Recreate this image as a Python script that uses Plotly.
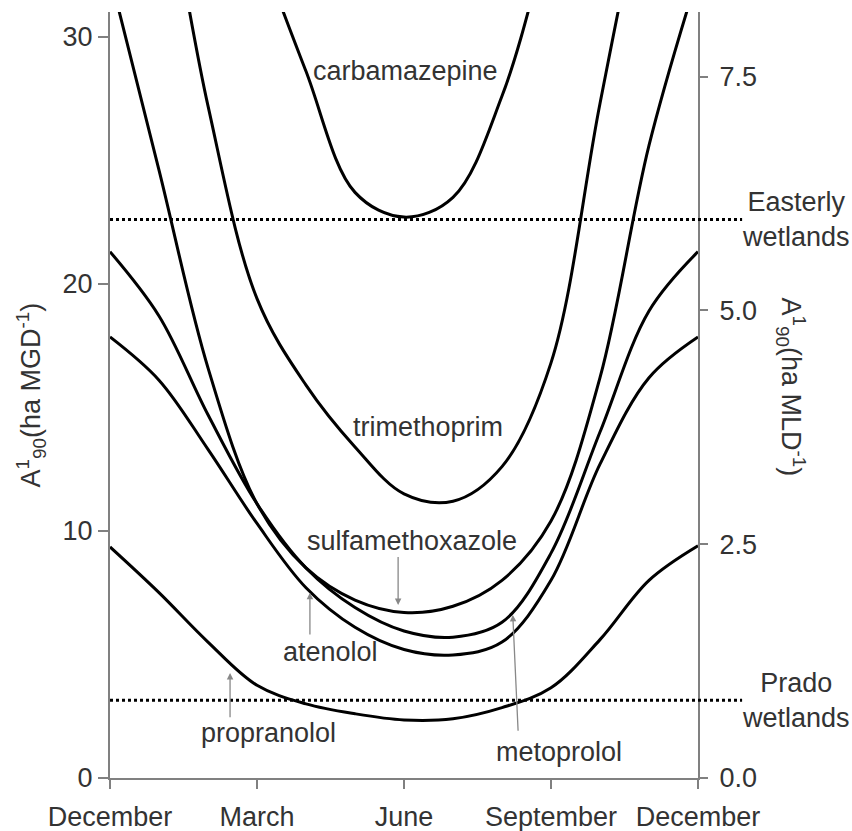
import plotly.graph_objects as go

# ---------------- data ----------------
months = [0, 1, 2, 3, 4, 5, 6, 7, 8, 9, 10, 11, 12]
tick_vals = [0, 3, 6, 9, 12]
tick_text = ["December", "March", "June", "September", "December"]

carbamazepine = [55, 48, 41, 34, 28.6, 23.7, 22.7, 23.5, 27.6, 34.5, 42, 49, 55]
trimethoprim = [45, 37.5, 27.2, 19.4, 15.9, 13.4, 11.5, 11.2, 12.6, 16.8, 27.3, 37, 45]
sulfamethoxazole = [32.5, 24.6, 16.6, 11.1, 8.5, 7.2, 6.7, 6.95, 8.0, 10.4, 16.2, 25.6, 32.5]
metoprolol = [21.3, 18.7, 14.7, 11.1, 8.5, 6.9, 5.95, 5.7, 6.3, 9.1, 14.0, 18.9, 21.3]
atenolol = [17.85, 16.1, 13.3, 10.3, 7.7, 6.1, 5.2, 4.98, 5.5, 8.0, 12.7, 16.2, 17.85]
propranolol = [9.35, 7.5, 5.5, 3.75, 3.0, 2.6, 2.35, 2.4, 2.85, 3.65, 5.6, 8.0, 9.4]

series = [carbamazepine, trimethoprim, sulfamethoxazole, metoprolol, atenolol, propranolol]

wetland_names = ["Easterly<br>wetlands", "Prado<br>wetlands"]
wetland_values = [22.6, 3.15]

y_max = 31
mgd_to_mld = 3.785
left_ticks = [0, 10, 20, 30]
right_ticks = [0.0, 2.5, 5.0, 7.5]

# curve labels: (text, x, y)
labels = [
    ("carbamazepine", 6.04, 28.6),
    ("trimethoprim", 6.49, 14.2),
    ("sulfamethoxazole", 6.16, 9.6),
    ("atenolol", 4.51, 5.1),
    ("propranolol", 3.24, 1.82),
    ("metoprolol", 9.16, 1.05),
]
# arrows: (tip_x, tip_y, tail_x, tail_y)
arrows = [
    (5.88, 7.0, 5.88, 9.0),
    (4.08, 7.5, 4.08, 5.75),
    (2.45, 4.25, 2.45, 2.4),
    (8.22, 6.6, 8.33, 1.85),
]

FONT = "Liberation Sans, Arial, sans-serif"
TXT = "#333333"
AX = "#808080"
FS = 27

fig = go.Figure()
for s in series:
    fig.add_trace(go.Scatter(x=months, y=s, mode="lines",
                             line=dict(color="black", width=3, shape="spline", smoothing=1.0),
                             showlegend=False, hoverinfo="skip"))
# invisible trace for the right axis
fig.add_trace(go.Scatter(x=[0], y=[0], yaxis="y2", mode="markers",
                         marker=dict(opacity=0), showlegend=False, hoverinfo="skip"))

shapes = []
for v in wetland_values:
    shapes.append(dict(type="line", xref="paper", yref="y", x0=0, x1=1.075, y0=v, y1=v,
                       line=dict(color="black", width=3, dash="dot")))

ann = []
for t, x, y in labels:
    ann.append(dict(text=t, x=x, y=y, xref="x", yref="y", showarrow=False,
                    xanchor="center", yanchor="middle",
                    font=dict(family=FONT, size=FS, color=TXT)))
for tx, ty, ax_, ay_ in arrows:
    ann.append(dict(text="", x=tx, y=ty, ax=ax_, ay=ay_, xref="x", yref="y",
                    axref="x", ayref="y", showarrow=True, arrowhead=2, arrowsize=1,
                    arrowwidth=1.3, arrowcolor="#888888", standoff=0))
for name, v in zip(wetland_names, wetland_values):
    ann.append(dict(text=name, x=1.167, y=v, xref="paper", yref="y", showarrow=False,
                    xanchor="center", yanchor="middle", align="center",
                    font=dict(family=FONT, size=FS, color=TXT)))
ann.append(dict(text="A<sup>1</sup><sub>90</sub>(ha MGD<sup>-1</sup>)", textangle=-90,
                x=-0.135, y=0.5, xref="paper", yref="paper", showarrow=False,
                xanchor="center", yanchor="middle",
                font=dict(family=FONT, size=FS, color=TXT)))
ann.append(dict(text="A<sup>1</sup><sub>90</sub>(ha MLD<sup>-1</sup>)", textangle=90,
                x=1.158, y=0.51, xref="paper", yref="paper", showarrow=False,
                xanchor="center", yanchor="middle",
                font=dict(family=FONT, size=FS, color=TXT)))

fig.update_layout(
    width=852, height=831,
    margin=dict(l=110, r=154, t=12, b=53),
    paper_bgcolor="white", plot_bgcolor="white",
    font=dict(family=FONT, size=FS, color=TXT),
    xaxis=dict(range=[0, 12], tickvals=tick_vals, ticktext=tick_text, automargin=False,
               showgrid=False, zeroline=False, showline=True, linecolor=AX, linewidth=2,
               ticks="outside", ticklen=9, tickwidth=2, tickcolor=AX, ticklabelstandoff=5,
               tickfont=dict(family=FONT, size=FS, color=TXT)),
    yaxis=dict(range=[0, y_max], tickvals=left_ticks, showgrid=False, zeroline=False,
               automargin=False,
               showline=True, linecolor=AX, linewidth=2, ticks="outside", ticklen=10,
               tickwidth=2, tickcolor=AX, tickfont=dict(family=FONT, size=FS, color=TXT)),
    yaxis2=dict(range=[0, y_max / mgd_to_mld], overlaying="y", side="right",
                automargin=False,
                tickvals=right_ticks, tickformat=".1f", showgrid=False, zeroline=False,
                showline=True, linecolor=AX, linewidth=2, ticks="outside", ticklen=8,
                tickwidth=2, tickcolor=AX, ticklabelstandoff=6,
                tickfont=dict(family=FONT, size=FS, color=TXT)),
    shapes=shapes,
    annotations=ann,
)

fig.write_html("out.html")
